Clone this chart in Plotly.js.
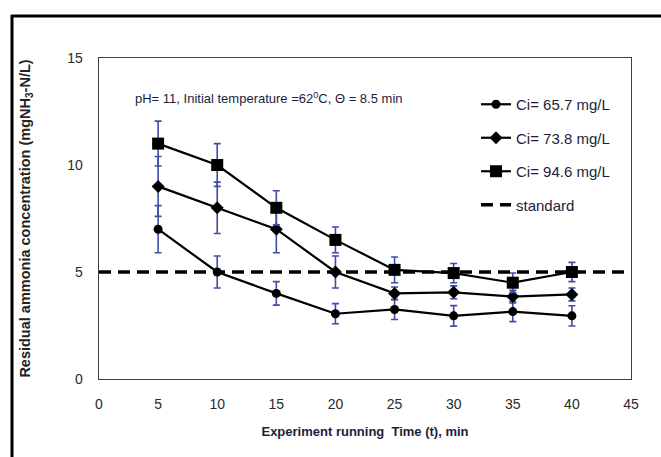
<!DOCTYPE html>
<html>
<head>
<meta charset="utf-8">
<script src="https://cdn.plot.ly/plotly-3.0.1.min.js"></script>
<style>
html,body{margin:0;padding:0;background:#fff;}
#chart{width:661px;height:457px;}
</style>
</head>
<body>
<div id="chart"></div>
<script>
// ---- data ----
var time = [5, 10, 15, 20, 25, 30, 35, 40];
var ci657 = [7.0, 5.0, 4.0, 3.05, 3.25, 2.95, 3.15, 2.95];
var ci738 = [9.0, 8.0, 7.0, 5.0, 4.0, 4.05, 3.85, 3.95];
var ci946 = [11.0, 10.0, 8.0, 6.5, 5.1, 4.95, 4.5, 5.0];
var err657 = [1.1, 0.75, 0.55, 0.47, 0.47, 0.48, 0.47, 0.47];
var err738 = [1.4, 1.2, 1.1, 0.75, 0.3, 0.3, 0.3, 0.3];
var err946 = [1.05, 1.0, 0.8, 0.6, 0.6, 0.45, 0.45, 0.45];
var standardX = [0, 45];
var standardY = [5, 5];
var seriesNames = ["Ci= 65.7 mg/L", "Ci= 73.8 mg/L", "Ci= 94.6 mg/L", "standard"];
var xTicks = [0, 5, 10, 15, 20, 25, 30, 35, 40, 45];
var yTicks = [0, 5, 10, 15];

// ---- layout geometry (pixels) ----
var W = 661, H = 457;
var L = 99, R = 30, T = 58, B = 78;
var pw = W - L - R, ph = H - T - B;
function px(x) { return (x - L) / pw; }
function py(y) { return (H - B - y) / ph; }

var errColor = '#3c4ea6';
var sans = '"Liberation Sans", Arial, sans-serif';
var textColor = '#1d1d3a';

function errObj(arr) {
  return {type: 'data', array: arr, visible: true, color: errColor, thickness: 1.6, width: 3.5};
}

var traces = [
  {x: time, y: ci657, name: seriesNames[0], mode: 'lines+markers', legendgroup: 'a',
   line: {color: '#000', width: 2.2}, marker: {symbol: 'circle', size: 9, color: '#000'},
   error_y: errObj(err657)},
  {x: time, y: ci738, name: seriesNames[1], mode: 'lines+markers', legendgroup: 'b',
   line: {color: '#000', width: 2.2}, marker: {symbol: 'diamond', size: 10, color: '#000'},
   error_y: errObj(err738)},
  {x: time, y: ci946, name: seriesNames[2], mode: 'lines+markers', legendgroup: 'c',
   line: {color: '#000', width: 2.2}, marker: {symbol: 'square', size: 12, color: '#000'},
   error_y: errObj(err946)},
  {x: standardX, y: standardY, name: seriesNames[3], mode: 'lines', legendgroup: 'd',
   line: {color: '#000', width: 3.5, dash: '12px,7px'}}
];

var layout = {
  width: W, height: H,
  margin: {l: L, r: R, t: T, b: B, pad: 0},
  paper_bgcolor: '#fff', plot_bgcolor: '#fff',
  showlegend: true,
  legend: {
    x: px(476), y: py(88), xanchor: 'left', yanchor: 'top',
    bgcolor: 'rgba(0,0,0,0)', borderwidth: 0,
    traceorder: 'grouped', tracegroupgap: 11,
    font: {family: sans, size: 15, color: textColor}
  },
  xaxis: {
    range: [0, 45], tickvals: xTicks, ticktext: xTicks.map(String),
    showgrid: false, zeroline: false, showline: true, mirror: true,
    linecolor: '#404040', linewidth: 1.3, ticks: '',
    ticklabelstandoff: 12,
    tickfont: {family: sans, size: 14, color: '#2a2a2a'},
    title: {text: 'Experiment running  Time (t), min', standoff: 15,
            font: {family: sans, size: 13, color: textColor, weight: 'bold'}}
  },
  yaxis: {
    range: [0, 15], tickvals: yTicks, ticktext: yTicks.map(String),
    showgrid: false, zeroline: false, showline: true, mirror: true,
    linecolor: '#404040', linewidth: 1.3, ticks: '',
    ticklabelstandoff: 12,
    tickfont: {family: sans, size: 14, color: '#2a2a2a'},
    title: {text: 'Residual ammonia concentration (mgNH<sub>3</sub>-N/L)\u00a0\u00a0\u00a0\u00a0\u00a0\u00a0\u00a0\u00a0', standoff: 33,
            font: {family: sans, size: 14.5, color: '#222', weight: 'bold'}}
  },
  annotations: [
    {xref: 'paper', yref: 'paper', x: px(133), y: py(98), xanchor: 'left', yanchor: 'middle',
     showarrow: false,
     text: 'pH= 11, Initial temperature =62<sup>0</sup>C, \u0398 = 8.5 min',
     font: {family: sans, size: 13, color: textColor}}
  ],
  shapes: [
    {type: 'line', xref: 'paper', yref: 'paper', x0: px(12), x1: px(12), y0: py(15), y1: py(470),
     line: {color: '#000', width: 3}},
    {type: 'line', xref: 'paper', yref: 'paper', x0: px(11), x1: px(670), y0: py(16), y1: py(16),
     line: {color: '#000', width: 3}}
  ]
};

Plotly.newPlot('chart', traces, layout, {displayModeBar: false, staticPlot: true});
</script>
</body>
</html>
